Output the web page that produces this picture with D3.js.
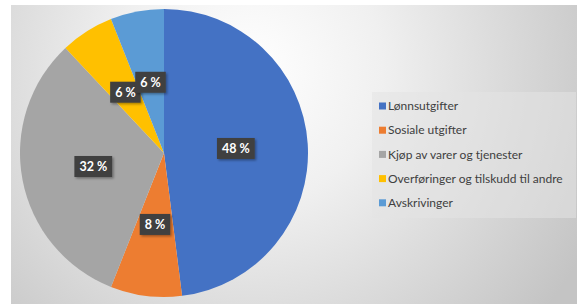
<!DOCTYPE html>
<html>
<head>
<meta charset="utf-8">
<script src="https://cdn.jsdelivr.net/npm/d3@7"></script>
<style>
  body { margin: 0; background: #fff; }
  svg { display: block; }
</style>
</head>
<body>
<div id="main"></div>
<script>
// chart data
var categories = ["Lønnsutgifter", "Sosiale utgifter", "Kjøp av varer og tjenester", "Overføringer og tilskudd til andre", "Avskrivinger"];
var shares = [48, 8, 32, 6, 6];
var colors = ["#4472C4", "#ED7D31", "#A5A5A5", "#FFC000", "#5B9BD5"];

var width = 584, height = 304;
var cx = 164, cy = 153, radius = 144;

var svg = d3.select("#main")
    .append("svg")
    .attr("width", width)
    .attr("height", height);

var defs = svg.append("defs");

// soft background like the office chart area
var bg = defs.append("radialGradient")
    .attr("id", "bgGrad")
    .attr("gradientUnits", "userSpaceOnUse")
    .attr("cx", 250).attr("cy", 70).attr("r", 380);
bg.append("stop").attr("offset", "0%").attr("stop-color", "#ffffff");
bg.append("stop").attr("offset", "35%").attr("stop-color", "#f0f0f0");
bg.append("stop").attr("offset", "100%").attr("stop-color", "#c4c4c4");

var shadow = defs.append("filter").attr("id", "shadow")
    .attr("x", "-30%").attr("y", "-30%").attr("width", "160%").attr("height", "160%");
shadow.append("feDropShadow")
    .attr("dx", 1.5).attr("dy", 1.5).attr("stdDeviation", 1.2)
    .attr("flood-color", "#000").attr("flood-opacity", 0.35);

svg.append("rect")
    .attr("x", 11).attr("y", 5)
    .attr("width", 566).attr("height", 300)
    .attr("fill", "url(#bgGrad)");

var pie = d3.pie().sort(null).value(function (d) { return d; });
var arcs = pie(shares);
var arc = d3.arc().innerRadius(0).outerRadius(radius);

var g = svg.append("g")
    .attr("transform", "translate(" + cx + "," + cy + ")");

g.selectAll(".slice")
    .data(arcs)
    .enter()
    .append("path")
    .attr("class", "slice")
    .attr("d", arc)
    .attr("fill", function (d, i) { return colors[i]; });

// labels in dark boxes
var labels = g.selectAll(".lbl")
    .data(arcs)
    .enter()
    .append("g")
    .attr("class", "lbl")
    .attr("transform", function (d) {
        var c = arc.centroid(d);
        return "translate(" + c[0] + "," + c[1] + ")";
    });

labels.each(function (d) {
    var lg = d3.select(this);
    var rect = lg.append("rect").attr("fill", "#404040").attr("filter", "url(#shadow)");
    var t = lg.append("text")
        .attr("text-anchor", "middle")
        .attr("dy", "0.36em")
        .attr("fill", "#ffffff")
        .attr("font-family", "Lato, 'Open Sans', sans-serif")
        .attr("font-weight", "bold")
        .attr("font-size", "12.5px")
        .text(d.data + " %");
    var w = t.node().getComputedTextLength();
    var bw = w + 10, bh = 21;
    rect.attr("x", -bw / 2).attr("y", -bh / 2).attr("width", bw).attr("height", bh);
});

// legend
var legend = svg.append("g").attr("transform", "translate(372,92)");
legend.append("rect")
    .attr("width", 204).attr("height", 126)
    .attr("fill", "#e4e4e4").attr("fill-opacity", 0.55);

var items = legend.selectAll(".item")
    .data(categories)
    .enter()
    .append("g")
    .attr("class", "item")
    .attr("transform", function (d, i) { return "translate(7," + (14 + i * 24.2) + ")"; });

items.append("rect")
    .attr("x", 0).attr("y", -3.5)
    .attr("width", 7).attr("height", 7)
    .attr("fill", function (d, i) { return colors[i]; });

items.append("text")
    .attr("x", 9)
    .attr("dy", "0.35em")
    .attr("fill", "#404040")
    .attr("font-family", "Lato, 'Open Sans', sans-serif")
    .attr("font-size", "12px")
    .text(function (d) { return d; });
</script>
</body>
</html>
